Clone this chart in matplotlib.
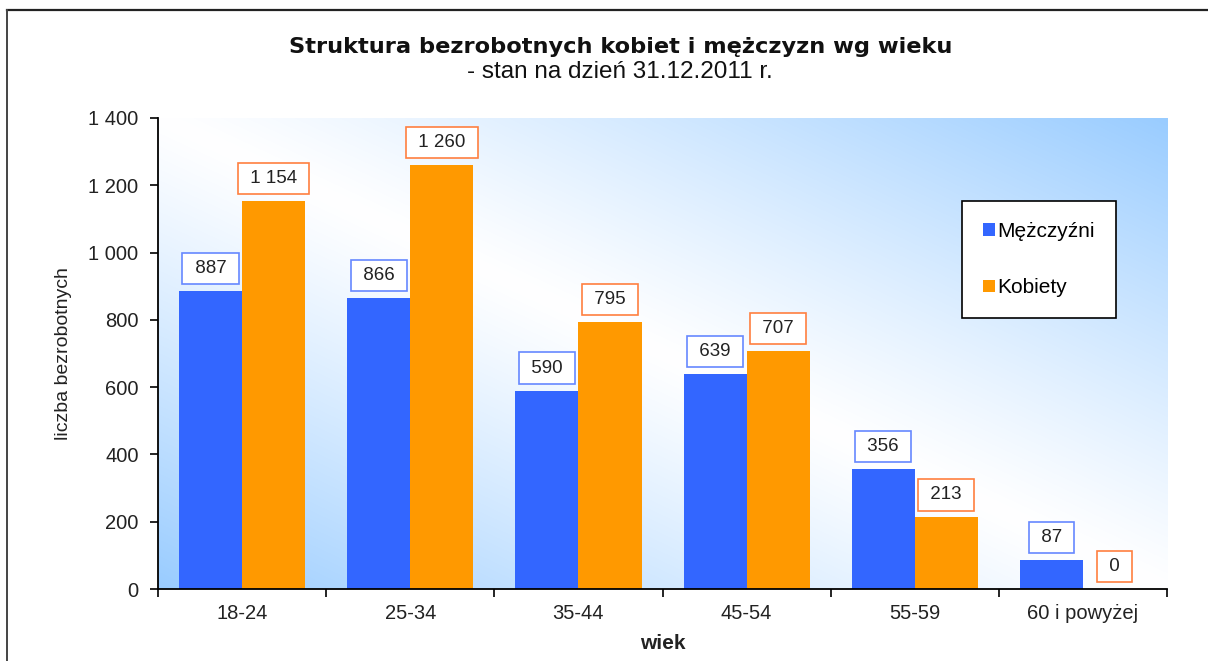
"""Unemployment structure by age and gender, bar chart."""

import matplotlib

matplotlib.use("Agg", force=True)

import matplotlib.pyplot as plt
import numpy as np
from matplotlib.lines import Line2D
from matplotlib.ticker import FuncFormatter

plt.rcParams["font.family"] = ["Liberation Sans", "DejaVu Sans"]

categories = ["18-24", "25-34", "35-44", "45-54", "55-59", "60 i powyżej"]
men = [887, 866, 590, 639, 356, 87]
women = [1154, 1260, 795, 707, 213, 0]
series_names = ["Mężczyźni", "Kobiety"]

BLUE = "#3366FF"
ORANGE = "#FF9900"
BLUE_EDGE = "#6688FF"
ORANGE_EDGE = "#FF7F40"
BG_BLUE = np.array([0x99, 0xCC, 0xFF]) / 255.0


def fmt_thousands(value, _pos=None):
	return f"{int(round(value)):,}".replace(",", " ")


fig = plt.figure(figsize=(12.08, 6.61), dpi=100)
ax = fig.add_axes([0.1308, 0.1089, 0.8353, 0.7126])

# diagonal gradient background: blue corners top-right / bottom-left
n = 300
u, v = np.meshgrid(np.linspace(0, 1, n), np.linspace(0, 1, n))
t = np.clip(np.abs(u + v - 1.0), 0, 1) ** 1.15
grad = 1.0 - t[..., None] * (1.0 - BG_BLUE[None, None, :])

x = np.arange(len(categories))
width = 0.375
ax.imshow(grad, origin="lower", extent=(-0.5, len(categories) - 0.5, 0, 1400),
		  aspect="auto", zorder=0, interpolation="bilinear")

bars_m = ax.bar(x - width / 2, men, width, color=BLUE, label=series_names[0], zorder=2)
bars_w = ax.bar(x + width / 2, women, width, color=ORANGE, label=series_names[1], zorder=2)

for bars, values, edge in ((bars_m, men, BLUE_EDGE), (bars_w, women, ORANGE_EDGE)):
	for rect, val in zip(bars, values):
		ax.annotate(
			f" {fmt_thousands(val)} ",
			(rect.get_x() + rect.get_width() / 2, rect.get_height()),
			xytext=(0, 10), textcoords="offset points",
			ha="center", va="bottom", fontsize=13.5, color="#222222", zorder=4,
			bbox=dict(boxstyle="square,pad=0.38", fc="white", ec=edge, lw=1.2),
		)

ax.set_xlim(-0.5, len(categories) - 0.5)
ax.set_ylim(0, 1400)
ax.set_yticks(np.arange(0, 1401, 200))
ax.yaxis.set_major_formatter(FuncFormatter(fmt_thousands))
ax.set_xticks(x)
ax.set_xticklabels(categories)
ax.set_xticks(np.arange(-0.5, len(categories)), minor=True)
ax.tick_params(axis="x", which="major", length=0, pad=11, labelsize=14.5, colors="#222222")
ax.tick_params(axis="x", which="minor", length=6, width=1.2, direction="out", color="black")
ax.tick_params(axis="y", length=6, width=1.2, direction="out", pad=8, labelsize=14.5,
			   labelcolor="#222222")

for side in ("top", "right"):
	ax.spines[side].set_visible(False)
for side in ("left", "bottom"):
	ax.spines[side].set_linewidth(1.3)
	ax.spines[side].set_zorder(3)

ax.set_ylabel("liczba bezrobotnych", fontsize=14, color="#222222", labelpad=12)
ax.set_xlabel("wiek", fontsize=15, fontweight="bold", color="#222222", labelpad=8)

leg = ax.legend(loc="upper left", bbox_to_anchor=(0.797, 0.824), frameon=True, fancybox=False,
				fontsize=15, handlelength=0.55, handleheight=0.55, handletextpad=0.15,
				labelspacing=1.8, borderpad=1.0, borderaxespad=0)
leg.get_frame().set_edgecolor("black")
leg.get_frame().set_linewidth(1.2)
leg.get_frame().set_facecolor("white")
leg.get_frame().set_alpha(1)

fig.text(0.514, 0.929, "Struktura bezrobotnych kobiet i mężczyzn wg wieku",
		 ha="center", va="center", fontsize=16.2, fontweight="bold", color="#111111",
		 family="DejaVu Sans")
fig.text(0.513, 0.891, "- stan na dzień 31.12.2011 r.",
		 ha="center", va="center", fontsize=17.5, color="#111111")

# chart frame (top and left edges visible)
fig.add_artist(Line2D([7 / 1208, 1.0], [1 - 10 / 661, 1 - 10 / 661],
					  transform=fig.transFigure, color="#222222", lw=1.6))
fig.add_artist(Line2D([7 / 1208, 7 / 1208], [0.0, 1 - 10 / 661],
					  transform=fig.transFigure, color="#444444", lw=1.4))

fig.savefig("out.png", dpi=100)
plt.close(fig)
